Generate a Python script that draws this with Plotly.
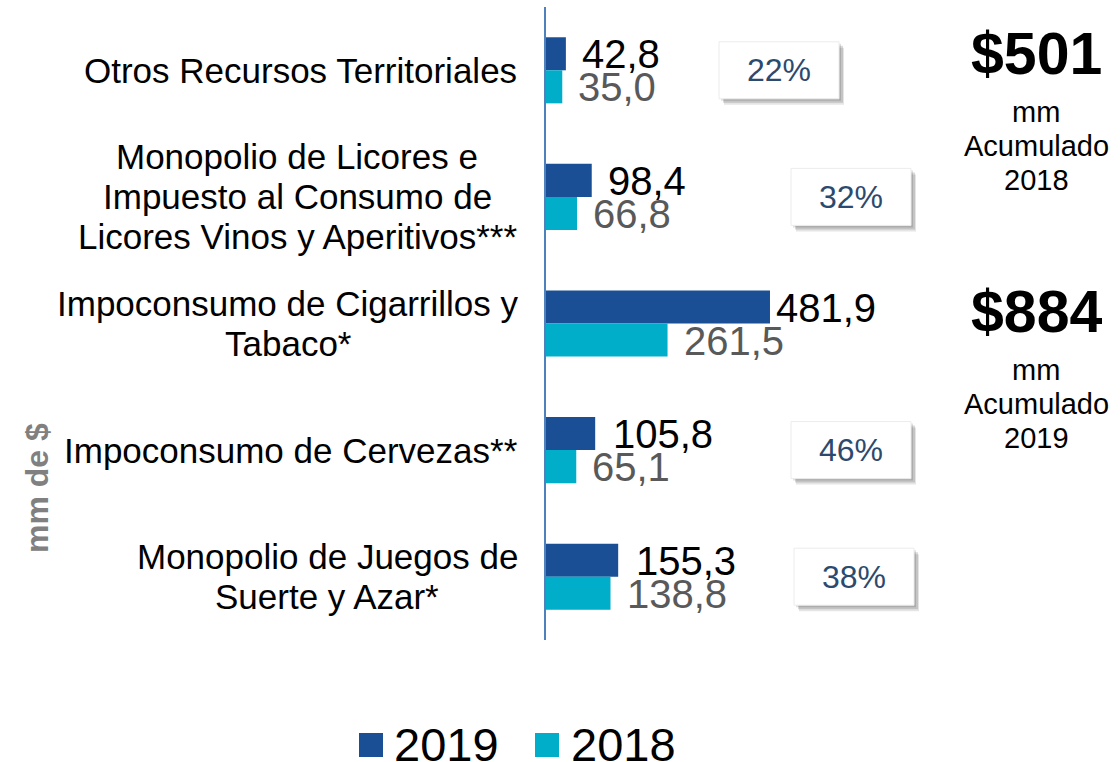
import plotly.graph_objects as go

# ---------------- data ----------------
categories = [
    "Otros Recursos Territoriales",
    "Monopolio de Licores e<br>Impuesto al Consumo de<br>Licores Vinos y Aperitivos***",
    "Impoconsumo de Cigarrillos y<br>Tabaco*",
    "Impoconsumo de Cervezas**",
    "Monopolio de Juegos de<br>Suerte y Azar*",
]
values_2019 = [42.8, 98.4, 481.9, 105.8, 155.3]
values_2018 = [35.0, 66.8, 261.5, 65.1, 138.8]
growth_labels = ["22%", "32%", "", "46%", "38%"]
total_values = ["$501", "$884"]
total_years = ["2018", "2019"]
series_names = ["2019", "2018"]
axis_title = "mm de $"

# ---------------- style ----------------
FONT = "Liberation Sans, Arial, sans-serif"
C2019 = "#1a4f96"
C2018 = "#00aec9"
W, H = 1120, 762
ML, MR, MT, MB = 546, 0, 7, 122
PW, PH = W - ML - MR, H - MT - MB
XMAX = PW / 0.4648


def px_x(px):
    return (px - ML) / PW


def px_y(py):
    return (H - MB - py) / PH


def fmt(v):
    return f"{v:.1f}".replace(".", ",")


fig = go.Figure()
fig.add_trace(go.Bar(y=categories, x=values_2019, orientation="h", name=series_names[0],
                     marker=dict(color=C2019, line=dict(width=0)), showlegend=False))
fig.add_trace(go.Bar(y=categories, x=values_2018, orientation="h", name=series_names[1],
                     marker=dict(color=C2018, line=dict(width=0)), showlegend=False))

annotations = []
shapes = []

# value labels
dx_2019 = [14, 14, 4, 16, 16]
for i, c in enumerate(categories):
    annotations.append(dict(x=values_2019[i], y=c, xref="x", yref="y", text=fmt(values_2019[i]),
                            showarrow=False, xanchor="left", yanchor="middle", xshift=dx_2019[i], yshift=16,
                            font=dict(family=FONT, size=40, color="#000000")))
    annotations.append(dict(x=values_2018[i], y=c, xref="x", yref="y", text=fmt(values_2018[i]),
                            showarrow=False, xanchor="left", yanchor="middle", xshift=14, yshift=-17,
                            font=dict(family=FONT, size=40, color="#595959")))

# category labels (one annotation per line, centered block)
label_cx = [300, 297, 288, 291, 327]
band = PH / len(categories)
for i, c in enumerate(categories):
    lines = c.split("<br>")
    cy = MT + band * (i + 0.5)
    n = len(lines)
    for k, ln in enumerate(lines):
        ly = cy + (k - (n - 1) / 2) * 40
        annotations.append(dict(x=px_x(label_cx[i]), y=px_y(ly), xref="paper", yref="paper", text=ln,
                                showarrow=False, xanchor="center", yanchor="middle",
                                font=dict(family=FONT, size=35, color="#000000")))

# growth boxes
box_cx = [779, 851, 851, 851, 854]
bw, bh = 120, 57
for i, g in enumerate(growth_labels):
    if not g:
        continue
    cy = MT + band * (i + 0.5)
    x0, x1 = box_cx[i] - bw / 2, box_cx[i] + bw / 2
    y0, y1 = cy - bh / 2, cy + bh / 2
    for (ox, oy, a) in [(5, 6, 0.10), (4, 4, 0.14), (2, 2, 0.12)]:
        shapes.append(dict(type="rect", xref="paper", yref="paper",
                           x0=px_x(x0 + ox), x1=px_x(x1 + ox), y0=px_y(y1 + oy), y1=px_y(y0 + oy),
                           fillcolor=f"rgba(0,0,0,{a})", line=dict(width=0), layer="above"))
    shapes.append(dict(type="rect", xref="paper", yref="paper",
                       x0=px_x(x0), x1=px_x(x1), y0=px_y(y1), y1=px_y(y0),
                       fillcolor="#ffffff", line=dict(width=1, color="#ececec"), layer="above"))
    annotations.append(dict(x=px_x(box_cx[i]), y=px_y(cy), xref="paper", yref="paper", text=g,
                            showarrow=False, xanchor="center", yanchor="middle",
                            font=dict(family=FONT, size=32, color="#2c4a6e")))

# totals on the right
total_top = [54, 312]
for j in range(2):
    t = total_top[j]
    annotations.append(dict(x=px_x(1036), y=px_y(t), xref="paper", yref="paper",
                            text=f"<b>{total_values[j]}</b>", showarrow=False, xanchor="center",
                            yanchor="middle", font=dict(family=FONT, size=59, color="#000000")))
    for k, ln in enumerate(["mm", "Acumulado", total_years[j]]):
        annotations.append(dict(x=px_x(1036), y=px_y(t + 58 + k * 34), xref="paper", yref="paper",
                                text=ln, showarrow=False, xanchor="center", yanchor="middle",
                                font=dict(family=FONT, size=29, color="#000000")))

# axis title
annotations.append(dict(x=px_x(37), y=px_y(488), xref="paper", yref="paper", text=f"<b>{axis_title}</b>",
                        showarrow=False, textangle=-90, xanchor="center", yanchor="middle",
                        font=dict(family=FONT, size=32, color="#808080")))

# manual legend
leg_items = [(359, 395, C2019, series_names[0]), (535, 572, C2018, series_names[1])]
for sx, tx, col, name in leg_items:
    shapes.append(dict(type="rect", xref="paper", yref="paper",
                       x0=px_x(sx), x1=px_x(sx + 24), y0=px_y(757), y1=px_y(733),
                       fillcolor=col, line=dict(width=0)))
    annotations.append(dict(x=px_x(tx - 3), y=px_y(744), xref="paper", yref="paper", text=name,
                            showarrow=False, xanchor="left", yanchor="middle",
                            font=dict(family=FONT, size=47, color="#000000")))

fig.update_layout(
    width=W, height=H,
    margin=dict(l=ML, r=MR, t=MT, b=MB, pad=0),
    paper_bgcolor="#ffffff", plot_bgcolor="#ffffff",
    barmode="group", bargap=0.478, bargroupgap=0,
    font=dict(family=FONT),
    xaxis=dict(range=[0, XMAX], visible=False, fixedrange=True),
    yaxis=dict(range=[len(categories) - 0.5, -0.5], showticklabels=False, ticks="",
               showgrid=False, zeroline=False, showline=True, linecolor="#4f81bd", linewidth=1.5,
               fixedrange=True),
    annotations=annotations,
    shapes=shapes,
)

fig.write_html("out.html", config={"displayModeBar": False},
               post_script="document.body.style.margin='0px';document.body.style.overflow='hidden';")
